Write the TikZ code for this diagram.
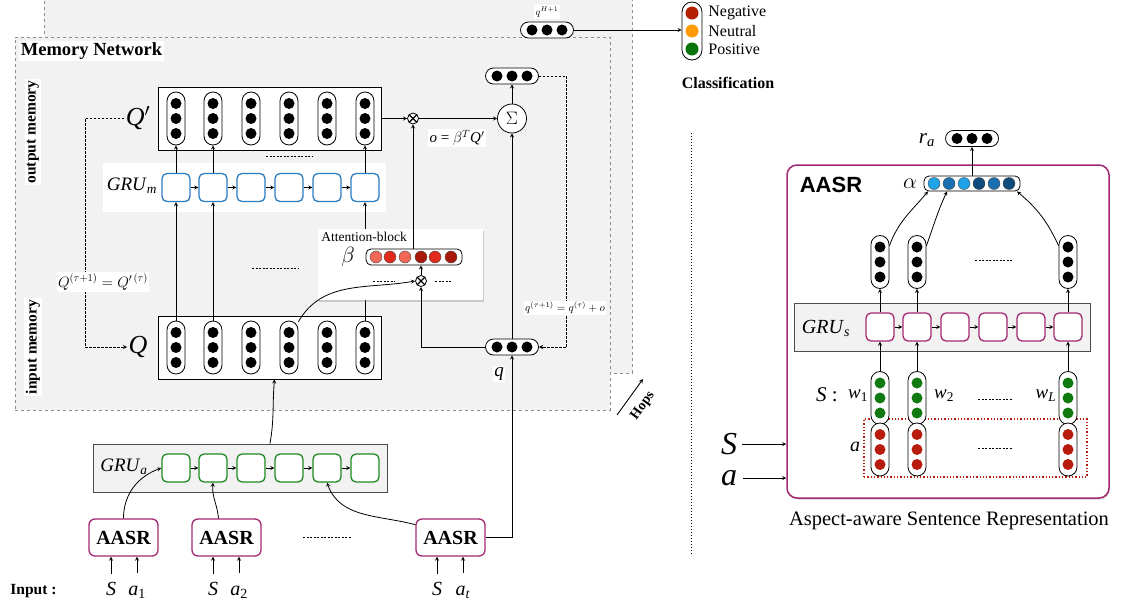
\RequirePackage{fix-cm}
\documentclass[tikz,border=0pt]{standalone}
\usepackage{amsmath,amssymb}
\usepackage{fontspec}
\setmainfont{Liberation Serif}
\setsansfont{Liberation Sans}
\usepackage{tikz}
\usetikzlibrary{positioning,shadows,calc}
\usepackage{xcolor}

\definecolor{panelgray}{HTML}{F2F2F2}
\definecolor{panelline}{HTML}{8C8C8C}
\definecolor{grublue}{HTML}{2A7DC0}
\definecolor{grugreen}{HTML}{1F8A1F}
\definecolor{aasrmag}{HTML}{A3286F}
\definecolor{redL}{HTML}{F26756}
\definecolor{redM}{HTML}{E02A1C}
\definecolor{redD}{HTML}{A8190B}
\definecolor{blueL}{HTML}{1EA2E8}
\definecolor{blueM}{HTML}{1A6FB0}
\definecolor{blueD}{HTML}{0E4A7C}
\definecolor{wordgreen}{HTML}{107A10}
\definecolor{aspred}{HTML}{B81C0C}
\definecolor{clsneg}{HTML}{B32000}
\definecolor{clsneu}{HTML}{FF9A00}
\definecolor{clspos}{HTML}{0A740A}

\newcommand\fsz[1]{\fontsize{#1}{#1}\selectfont}
\newcommand\itsub[2]{\textit{#1}\textsubscript{#2}}

\begin{document}
\begin{tikzpicture}[x=1pt, y=1pt, >=stealth, line width=0.8pt,
  every node/.style={inner sep=1pt},
  panel/.style={draw=panelline, dashed, fill=panelgray, line width=0.9pt},
  lab/.style={fill=white, inner sep=1.5pt},
  vcap/.style={draw, fill=white, rounded corners=9pt, minimum width=18pt, minimum height=53pt, inner sep=0pt},
  hcap/.style={draw, fill=white, rounded corners=8pt, minimum width=53pt, minimum height=16pt, inner sep=0pt},
  blob/.style={circle, fill=black, minimum size=11pt, inner sep=0pt},
  cdot/.style={circle, draw=black!70, line width=0.4pt, minimum size=12pt, inner sep=0pt},
  cell/.style={draw, fill=white, rounded corners=5pt, minimum size=28pt, line width=1.3pt, inner sep=0pt},
  graybar/.style={draw=black!70, fill=panelgray, line width=0.9pt, minimum height=48pt},
  aasrbox/.style={draw=aasrmag, fill=white, rounded corners=6pt, line width=1.3pt, minimum width=69pt, minimum height=37pt, font=\bfseries\fsz{20}},
  otimes/.style={circle, draw, fill=white, minimum size=11pt, inner sep=0pt,
    path picture={\draw[line width=1.2pt] (path picture bounding box.north west) -- (path picture bounding box.south east)
      (path picture bounding box.south west) -- (path picture bounding box.north east);}},
  fbline/.style={dash pattern=on 2.5pt off 1.5pt, line width=0.9pt},
  filler/.style={dash pattern=on 2pt off 1.5pt, line width=0.8pt},
  softshadow/.style={drop shadow={shadow xshift=1pt, shadow yshift=-1.5pt, opacity=0.35}}
]
\useasboundingbox (0,0) rectangle (1121,-608);

% hop layers
\node[panel, minimum width=588pt, minimum height=378pt] (hopback) at (338,-184) {};
\node[panel, minimum width=595pt, minimum height=373pt] (hopfront) at (312.5,-223.5) {};
\node[lab, anchor=west, font=\bfseries\fsz{18.5}] (memnet) at (19,-51) {Memory Network};
\node[lab, rotate=90, font=\bfseries\fsz{15.5}] (outmem) at (33,-132) {output memory};
\node[lab, rotate=90, font=\bfseries\fsz{15.5}] (inmem) at (33,-347) {input memory};

% output memory Q'
\node[draw, fill=white, minimum width=223pt, minimum height=63pt] (qpbox) at (269.5,-118.5) {};
\foreach \x [count=\i] in {176,213,251,289,327,365} {
  \node[vcap] (qpc\i) at (\x,-118.5) {};
  \foreach \dy [count=\k] in {15,0,-15}
    \node[blob] (qpc\i-\k) at (\x,\dy-118.5) {};
}
\node[font=\fsz{26}] (bigQp) at (138,-118) {\textit{Q}$'$};

% GRU_m
\node[fill=white, minimum width=283pt, minimum height=49pt] (grum) at (244.5,-187.5) {};
\node[font=\fsz{19}] (grumLab) at (132,-186) {\itsub{GRU}{\textit{m}}};
\foreach \x [count=\i] in {176,213,251,289,327,365}
  \node[cell, draw=grublue] (gm\i) at (\x,-187.5) {};
\foreach \i/\j in {1/2,2/3,3/4,4/5,5/6}
  \draw[->] (gm\i) -- (gm\j);

% input memory Q
\node[draw, fill=white, minimum width=223pt, minimum height=63pt] (qbox) at (269.5,-347.5) {};
\foreach \x [count=\i] in {176,213,251,289,327,365} {
  \node[vcap] (qc\i) at (\x,-347.5) {};
  \foreach \dy [count=\k] in {15,0,-15}
    \node[blob] (qc\i-\k) at (\x,\dy-347.5) {};
}
\node[font=\fsz{26}] (bigQ) at (138,-347) {\textit{Q}};

\foreach \i in {1,2,6}
  \draw[->] (qc\i.north) -- (gm\i.south);
\foreach \i in {1,2,6}
  \draw[->] (gm\i.north) -- (qpc\i.south);
\draw[filler] (266,-156) -- (312,-156);
\draw[filler] (252,-268) -- (298,-268);

\draw[fbline, ->] (bigQp.west) -- ++(-39,0) |- (bigQ.west);
\node[lab, font=\fsz{15}] (qupd) at (103,-282) {$Q^{(\tau+1)}=Q'^{\,(\tau)}$};

% attention block
\node[fill=white, softshadow, minimum width=165pt, minimum height=71pt] (attblk) at (400.5,-264.5) {};
\node[anchor=west, font=\fsz{13.5}] (attlab) at (320,-237) {Attention-block};
\node[font=\fsz{22}] (betalab) at (348,-257) {$\beta$};
\node[hcap, minimum width=96pt, rounded corners=5pt] (beta) at (414,-257) {};
\foreach \x/\c [count=\i] in {376/redL,390/redM,405/redL,421/redD,435/redM,451/redD}
  \node[cdot, fill=\c] (beta-\i) at (\x,-257) {};
\node[otimes] (attx) at (421,-281) {};
\draw[filler] (373,-281) -- (395,-281);
\draw[filler] (435,-281) -- (452,-281);
\draw[->] (attx.north) -- (attx |- beta.south);
\draw[->] (qc4.70) to[out=60, in=190] (attx.west);

% combining step
\node[otimes] (topx) at (413,-118.5) {};
\node[circle, draw, fill=white, minimum size=29pt, inner sep=0pt, font=\fsz{18}] (sigma) at (512,-118.5) {$\Sigma$};
\node[hcap] (ovec) at (512,-76) {};
\foreach \x [count=\k] in {497,512,527}
  \node[blob] (ovec-\k) at (\x,-76) {};
\draw[->] (topx |- beta.north) -- (topx.south);
\draw[->] (qpbox.east) -- (topx.west);
\draw[->] (topx.east) -- (sigma.west);
\draw[->] (sigma.north) -- (ovec.south);
\node[lab, font=\fsz{15}] (olab) at (457,-138) {\textit{o} = $\beta^{T}$\textit{Q}$'$};

% query
\node[hcap] (qv) at (512,-347) {};
\foreach \x [count=\k] in {497,512,527}
  \node[blob] (qv-\k) at (\x,-347) {};
\node[lab, font=\fsz{19}] (qlab) at (499,-374) {\textit{q}};
\draw[->] (qv.north) -- (sigma.south);
\draw[->] (qv.west) -| (attx.south);
\draw[fbline, ->] (ovec.east) -- ++(28,0) |- (qv.east);
\node[lab, font=\fsz{11}] (qupd2) at (565,-308) {$q^{(\tau+1)}=q^{(\tau)}+o$};

% last hop and classification
\node[hcap] (qH) at (547,-30) {};
\foreach \x [count=\k] in {532,547,562}
  \node[blob] (qH-\k) at (\x,-30) {};
\node[lab, font=\fsz{10}] (qHlab) at (547,-12) {$q^{H+1}$};
\node[vcap, minimum width=20pt, minimum height=58pt, rounded corners=10pt] (cls) at (692,-31) {};
\foreach \y/\c/\t [count=\k] in {-13/clsneg/Negative,-31/clsneu/Neutral,-49/clspos/Positive} {
  \node[blob, fill=\c, minimum size=13pt] (cls-\k) at (692,\y) {};
  \node[anchor=west, font=\fsz{16}] (clsLab\k) at (707,\y) {\t};
}
\node[font=\bfseries\fsz{16}] (clsTitle) at (728,-83) {Classification};
\draw[->] (qH.east) -- (qH.east -| cls.west);

% hops
\coordinate (hopsA) at (617,-415);
\coordinate (hopsB) at (643,-379);
\draw[->, line width=0.9pt] (hopsA) -- (hopsB);
\node[rotate=54, font=\bfseries\fsz{14}] (hopsLab) at (643,-406) {Hops};

% aspect GRU
\node[graybar, minimum width=294pt] (grua) at (240,-468) {};
\node[font=\fsz{19}] (gruaLab) at (124,-467) {\itsub{GRU}{\textit{a}}};
\foreach \x [count=\i] in {176,213,251,289,327,365}
  \node[cell, draw=grugreen] (ga\i) at (\x,-468) {};
\foreach \i/\j in {1/2,2/3,3/4,4/5,5/6}
  \draw[->] (ga\i) -- (ga\j);

\foreach \n/\x in {1/123.5,2/226.5,t/450.5}
  \node[aasrbox] (aasr\n) at (\x,-537.5) {AASR};
\draw[filler] (303,-537) -- (351,-537);

\node[anchor=base west, font=\bfseries\fsz{15.5}] (inLab) at (9,-594) {Input :};
\foreach \n/\xs/\xa/\sub in {1/111/137/1,2/213/239/2,t/437/463/\textit{t}} {
  \node[anchor=base, font=\fsz{20}] (inS\n) at (\xs,-595) {\textit{S}};
  \node[anchor=base, font=\fsz{20}] (inA\n) at (\xa,-595) {\itsub{a}{\sub}};
  \draw[->] ([yshift=6pt]inS\n.north) -- (inS\n |- aasr\n.south);
  \draw[->] ([yshift=11pt]inA\n.north) -- (inA\n |- aasr\n.south);
}
\draw[->] (aasr1.north) to[out=90, in=200] (ga1.west);
\draw[->] ([xshift=-8pt]aasr2.north) to[out=95, in=-95] (ga2.south);
\draw[->] (aasrt.160) to[out=165, in=-70] (ga5.south);
\draw[->] ([xshift=30pt]grua.north) to[out=80, in=-95] ([xshift=5pt]qbox.south);
\draw[->] (aasrt.east) -| (qv.south);

% separator
\draw[dotted, line width=1pt] (691,-133) -- (691,-555);

% aspect-aware sentence representation
\node[draw=aasrmag, fill=white, line width=1.5pt, rounded corners=10pt, softshadow,
  minimum width=322pt, minimum height=333pt] (aasrpanel) at (948,-331.5) {};
\node[font=\sffamily\bfseries\fsz{22}] (aasrTitle) at (831,-185) {AASR};
\node[font=\fsz{22}] (alphaLab) at (910,-184) {$\alpha$};
\node[hcap, minimum width=96pt, minimum height=15pt, rounded corners=5pt] (alpha) at (972,-183.5) {};
\foreach \x/\c [count=\i] in {934/blueL,949/blueM,964/blueL,979/blueD,994/blueM,1009/blueD}
  \node[cdot, fill=\c] (alpha-\i) at (\x,-183.5) {};
\node[hcap] (ra) at (972,-138.5) {};
\foreach \x [count=\k] in {957,972,987}
  \node[blob] (ra-\k) at (\x,-138.5) {};
\node[font=\fsz{21}] (raLab) at (927,-140) {\itsub{r}{\textit{a}}};
\draw[->] (alpha.north) -- (ra.south);

\foreach \n/\x in {1/880,2/917,L/1068} {
  \node[vcap] (hc\n) at (\x,-262) {};
  \foreach \dy [count=\k] in {15,0,-15}
    \node[blob] (hc\n-\k) at (\x,\dy-262) {};
}
\draw[->] (hc1.60) to[out=70, in=-130] ([xshift=-44pt]alpha.south);
\draw[->] (hc2.60) to[out=70, in=-115] ([xshift=-25pt]alpha.south);
\draw[->] (hcL.120) to[out=115, in=-40] ([xshift=45pt]alpha.south);
\draw[filler] (975,-260) -- (1012,-260);

\node[graybar, minimum width=296pt] (grus) at (942,-327) {};
\node[font=\fsz{20}] (grusLab) at (826,-328) {\itsub{GRU}{\textit{s}}};
\foreach \x [count=\i] in {880,917,955,993,1031,1068}
  \node[cell, draw=aasrmag] (gs\i) at (\x,-327) {};
\foreach \i/\j in {1/2,2/3,3/4,4/5,5/6}
  \draw[->] (gs\i) -- (gs\j);
\draw[->] (gs1.north) -- (hc1.south);
\draw[->] (gs2.north) -- (hc2.south);
\draw[->] (gs6.north) -- (hcL.south);

\node[draw=aspred, dotted, line width=1.3pt, minimum width=223pt, minimum height=58pt] (aspbox) at (975.5,-448) {};
\foreach \n/\x in {1/880,2/917,L/1068} {
  \node[vcap] (wc\n) at (\x,-398) {};
  \foreach \dy [count=\k] in {15,0,-15}
    \node[blob, fill=wordgreen] (wc\n-\k) at (\x,\dy-398) {};
  \node[vcap] (ac\n) at (\x,-449.5) {};
  \foreach \dy [count=\k] in {15,0,-15}
    \node[blob, fill=aspred] (ac\n-\k) at (\x,\dy-449.5) {};
}
\draw[->] (wc1.north) -- (gs1.south);
\draw[->] (wc2.north) -- (gs2.south);
\draw[->] (wcL.north) -- (gs6.south);

\node[font=\fsz{21}] (sLab) at (827,-395) {\textit{S} :};
\node[font=\fsz{19}] (w1Lab) at (858,-396) {\itsub{w}{1}};
\node[font=\fsz{19}] (w2Lab) at (944,-396) {\itsub{w}{2}};
\node[font=\fsz{19}] (wLLab) at (1046,-396) {\itsub{w}{\textit{L}}};
\node[font=\fsz{20}] (aLab) at (855,-447) {\textit{a}};
\draw[filler] (978,-399) -- (1013,-399);
\draw[filler] (978,-448) -- (1013,-448);

\node[font=\fsz{32}] (bigS) at (729,-444) {\textit{S}};
\node[font=\fsz{32}] (biga) at (729,-478) {\textit{a}};
\draw[->] ([xshift=4pt]bigS.east) -- (bigS.east -| aasrpanel.west);
\draw[->] ([xshift=5pt]biga.east) -- (biga.east -| aasrpanel.west);

\node[font=\fsz{20.5}] (caption) at (949,-521) {Aspect-aware Sentence Representation};
\end{tikzpicture}
\end{document}
